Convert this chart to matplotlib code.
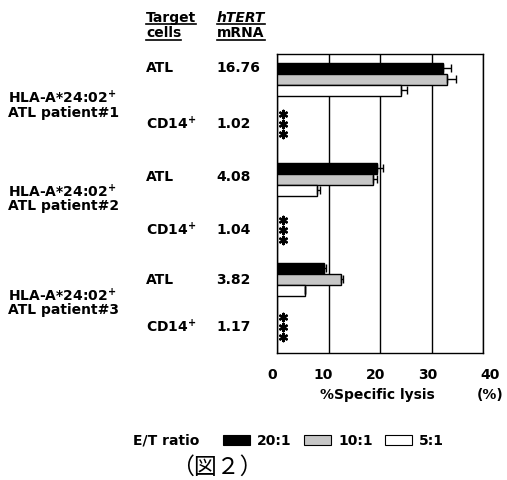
import numpy as np
import matplotlib
matplotlib.use("Agg")
import matplotlib.pyplot as plt
from matplotlib.lines import Line2D
from matplotlib.patches import Patch
from matplotlib.transforms import blended_transform_factory, ScaledTranslation

# ---------------- data ----------------
patients = ["HLA-A*24:02$^{\\mathbf{+}}$\nATL patient#1",
            "HLA-A*24:02$^{\\mathbf{+}}$\nATL patient#2",
            "HLA-A*24:02$^{\\mathbf{+}}$\nATL patient#3"]
target_cells = ["ATL", "CD14$^{\\mathbf{+}}$"]
htert_atl = ["16.76", "4.08", "3.82"]
htert_cd14 = ["1.02", "1.04", "1.17"]
ratios = ["20:1", "10:1", "5:1"]
lysis_20 = [32.2, 19.4, 9.1]
lysis_10 = [33.0, 18.6, 12.4]
lysis_5 = [24.1, 7.8, 5.4]
err_20 = [1.5, 1.1, 0.5]
err_10 = [1.7, 0.8, 0.4]
err_5 = [1.1, 0.5, 0.0]
x_ticks = [0, 10, 20, 30, 40]

# ---------------- layout ----------------
W, H = 507, 480
fig = plt.figure(figsize=(W / 100, H / 100), dpi=100)
plt.rcParams['font.family'] = ['DejaVu Sans']
FS = 10

ax_l, ax_r, ax_t, ax_b = 277, 483, 54, 353
ax = fig.add_axes([ax_l / W, 1 - ax_b / H, (ax_r - ax_l) / W, (ax_b - ax_t) / H])
ax.set_xlim(0, 40)
ax.set_ylim(ax_b - ax_t, 0)

group_centers = np.array([25, 125, 225])
bar_h = 11
colors = ["black", "#c6c6c6", "white"]
series = [lysis_20, lysis_10, lysis_5]
errs = [err_20, err_10, err_5]
for k, (vals, e, c) in enumerate(zip(series, errs, colors)):
    ax.barh(group_centers + (k - 1) * bar_h, vals, height=bar_h, color=c,
            edgecolor="black", linewidth=1.0, zorder=3,
            xerr=[np.zeros(len(e)), e], capsize=3,
            error_kw=dict(elinewidth=1.0, capthick=1.0, ecolor="black", zorder=4))

# significance asterisks (CD14+ rows)
cd14_rows = np.array([70, 176, 273])
star_x = 1.2
for yc in cd14_rows:
    ax.scatter([star_x] * 3, [yc - 10, yc, yc + 10], marker=(6, 2, 0), s=28,
               linewidths=1.7, color="black", zorder=5, clip_on=False)

ax.set_xticks(x_ticks)
ax.set_xticklabels([str(t) for t in x_ticks], fontsize=FS, fontweight="bold")
ax.set_yticks([])
ax.tick_params(axis="x", length=0, pad=11)
ax.grid(axis="x", color="black", linewidth=1.0)
ax.set_axisbelow(True)
for s in ax.spines.values():
    s.set_linewidth(1.0)
offs = [-4.5, -5.5, -4, -3.5, 7]
for lab, dx in zip(ax.get_xticklabels(), offs):
    lab.set_transform(lab.get_transform() + ScaledTranslation(dx / 100, 0, fig.dpi_scale_trans))

fig.text(377 / W, 1 - 395 / H, "%Specific lysis", ha="center", va="center",
         fontsize=FS, fontweight="bold")
fig.text(490 / W, 1 - 395 / H, "(%)", ha="center", va="center",
         fontsize=FS, fontweight="bold")

# row labels
tr = blended_transform_factory(fig.transFigure, ax.transData)
atl_rows = [14, 123, 226]
hla_rows = [50.5, 144, 248]
for i in range(3):
    ax.text(8 / W, hla_rows[i], patients[i], transform=tr, ha="left", va="center",
            fontsize=FS, fontweight="bold", linespacing=0.95)
    ax.text(146 / W, atl_rows[i], target_cells[0], transform=tr, ha="left", va="center",
            fontsize=FS, fontweight="bold")
    ax.text(216 / W, atl_rows[i], htert_atl[i], transform=tr, ha="left", va="center",
            fontsize=FS, fontweight="bold")
    ax.text(146 / W, cd14_rows[i], target_cells[1], transform=tr, ha="left", va="center",
            fontsize=FS, fontweight="bold")
    ax.text(216 / W, cd14_rows[i], htert_cd14[i], transform=tr, ha="left", va="center",
            fontsize=FS, fontweight="bold")

# headers (underlined)
hdr = [
    fig.text(146 / W, 1 - 18 / H, "Target", fontsize=FS, fontweight="bold", va="center"),
    fig.text(146 / W, 1 - 33 / H, "cells", fontsize=FS, fontweight="bold", va="center"),
    fig.text(217 / W, 1 - 18 / H, "hTERT", fontsize=FS, fontweight="bold", style="italic", va="center"),
    fig.text(217 / W, 1 - 33 / H, "mRNA", fontsize=FS, fontweight="bold", va="center"),
]
uy = [24, 40, 24, 40]
fig.canvas.draw()
r = fig.canvas.get_renderer()
for t, y in zip(hdr, uy):
    bb = t.get_window_extent(r)
    fig.add_artist(Line2D([bb.x0 / W, bb.x1 / W], [1 - y / H, 1 - y / H],
                          color="black", linewidth=1.2, transform=fig.transFigure))

# legend
fig.text(133 / W, 1 - 441 / H, "E/T ratio", ha="left", va="center",
         fontsize=FS, fontweight="bold")
handles = [Patch(facecolor=c, edgecolor="black", linewidth=0.8) for c in colors]
leg = fig.legend(handles, ratios, loc="center left", bbox_to_anchor=(223 / W, 1 - 441 / H),
                 ncol=3, frameon=False, borderpad=0, borderaxespad=0,
                 handlelength=1.95, handleheight=0.65, handletextpad=0.5,
                 columnspacing=0.9, prop=dict(size=FS, weight="bold"))

fig.text(217 / W, 1 - 467 / H, "（図２）", ha="center", va="center", fontsize=16.5,
         family=["Noto Sans CJK JP", "DejaVu Sans"])

fig.savefig("out.png", dpi=100)
